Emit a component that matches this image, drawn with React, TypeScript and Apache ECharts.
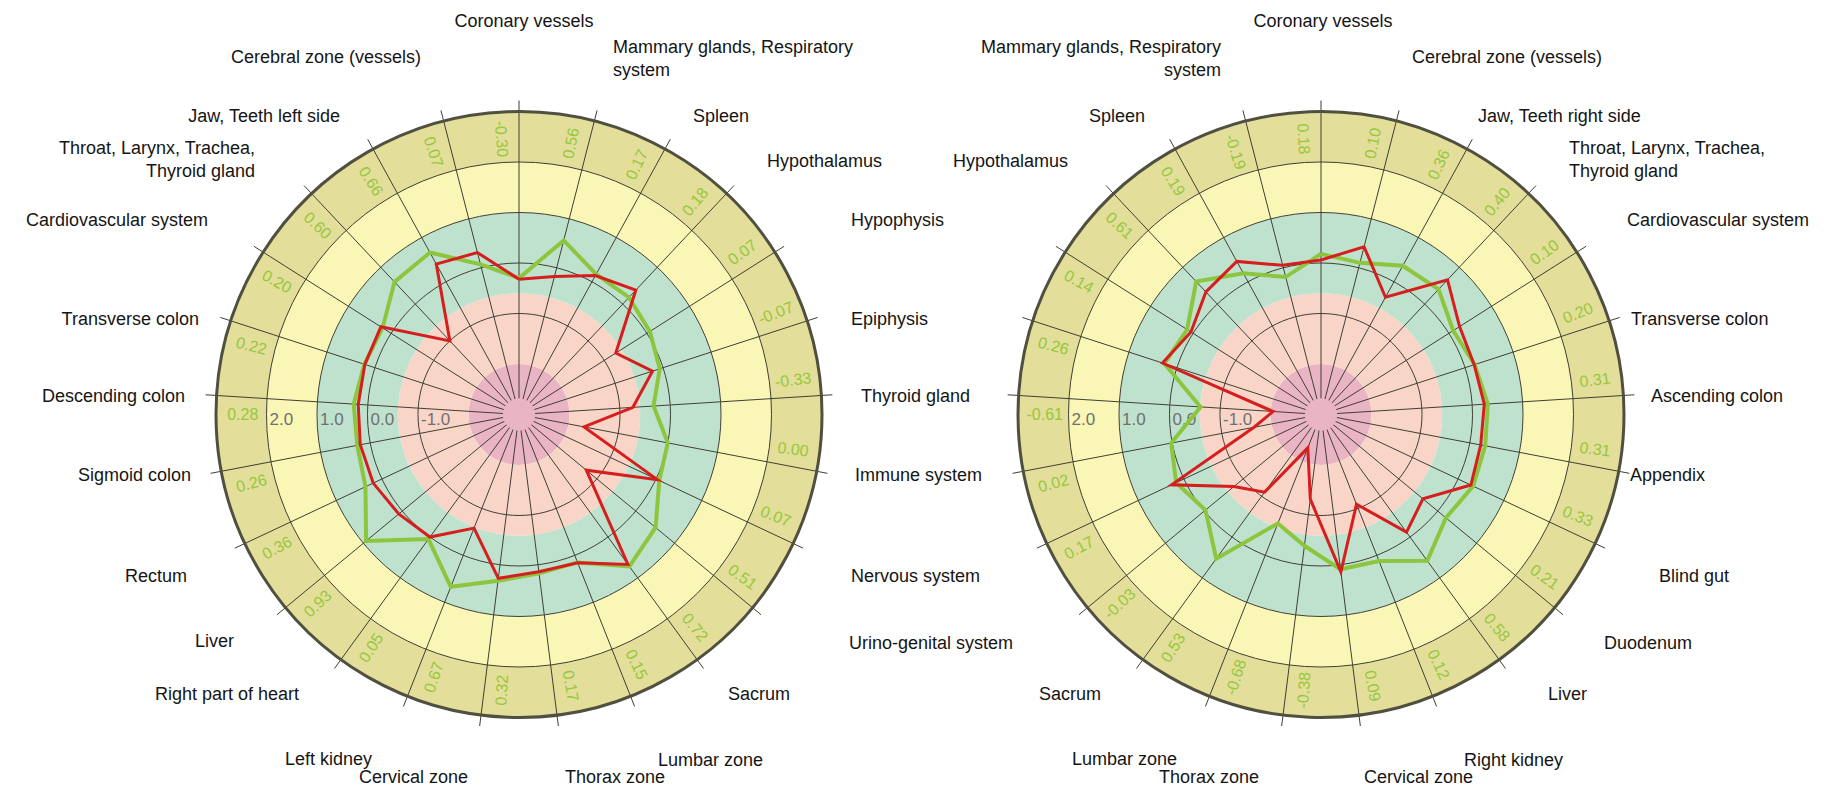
import React, { useEffect, useRef } from "react";
import * as echarts from "echarts";

// ---------- data ----------
const LEFT_CATEGORIES = [
  "Coronary vessels", "Mammary glands, Respiratory\nsystem", "Spleen", "Hypothalamus", "Hypophysis",
  "Epiphysis", "Thyroid gland", "Immune system", "Nervous system", "Urino-genital system",
  "Sacrum", "Lumbar zone", "Thorax zone", "Cervical zone", "Left kidney",
  "Right part of heart", "Liver", "Rectum", "Sigmoid colon", "Descending colon",
  "Transverse colon", "Cardiovascular system", "Throat, Larynx, Trachea,\nThyroid gland", "Jaw, Teeth left side", "Cerebral zone (vessels)",
];
const RIGHT_CATEGORIES = [
  "Coronary vessels", "Cerebral zone (vessels)", "Jaw, Teeth right side", "Throat, Larynx, Trachea,\nThyroid gland", "Cardiovascular system",
  "Transverse colon", "Ascending colon", "Appendix", "Blind gut", "Duodenum",
  "Liver", "Right kidney", "Cervical zone", "Thorax zone", "Lumbar zone",
  "Sacrum", "Urino-genital system", "Nervous system", "Immune system", "Thyroid gland",
  "Epiphysis", "Hypophysis", "Hypothalamus", "Spleen", "Mammary glands, Respiratory\nsystem",
];
const LEFT_GREEN = [-0.30, 0.56, 0.17, 0.18, 0.07, -0.07, -0.33, 0.00, 0.07, 0.51, 0.72, 0.15, 0.17, 0.32, 0.67, 0.05, 0.93, 0.36, 0.26, 0.28, 0.22, 0.20, 0.60, 0.66, 0.07];
const LEFT_RED = [-0.32, -0.18, 0.14, 0.38, -0.73, -0.22, -0.74, -1.69, 0.03, -1.27, 0.67, 0.16, 0.14, 0.27, -0.58, 0.0, 0.09, 0.19, 0.2, 0.19, 0.21, 0.24, -1.0, 0.40, 0.31];
const RIGHT_GREEN = [0.18, 0.10, 0.36, 0.40, 0.10, 0.20, 0.31, 0.31, 0.33, 0.21, 0.58, 0.12, 0.09, -0.38, -0.68, 0.53, -0.03, 0.17, 0.02, -0.61, 0.26, 0.14, 0.61, 0.19, -0.19];
const RIGHT_RED = [0.06, 0.43, -0.35, 0.66, 0.25, 0.19, 0.24, 0.22, 0.28, -0.38, -0.12, -1.09, 0.14, -1.31, -2.29, -1.1, -0.76, 0.27, -1.65, -2.05, 0.30, 0.05, 0.33, 0.46, 0.05];
const RADIUS_TICKS = [-1, 0, 1, 2];
const BAND_EDGES = [-3, -2, -0.6, 1, 2, 3];

// ---------- layout / style ----------
const W = 1836;
const H = 789;
const CENTERS: [number, number][] = [[519, 414.5], [1321, 414.5]];
const RADIUS = 303;
const BAND_COLORS = ["#e9b4c4", "#f9d5c7", "#bfe2ce", "#faf6b6", "#e3de9a"];
const CAP_EDGE = -2.68;
const VALUE_LABEL_R = 2.47;
const GRID_COLOR = "#3f3f35";
const FONT = '"Liberation Sans", Arial, sans-serif';

// label anchors relative to chart centre [dx, dy]; null = label shared with the other chart
const LEFT_LABEL_POS: ([number, number] | null)[] = [
  [5, -394], [94, -356], [174, -299], [248, -254], [332, -195],
  [332, -96], [342, -19], [336, 60], [332, 161], [330, 228],
  [209, 279], [139, 345], [46, 362], [-51, 362], [-147, 344],
  [-220, 279], [-285, 226], [-332, 161], [-328, 60], [-334, -19],
  [-320, -96], [-311, -195], [-264, -255], [-179, -299], [-98, -358],
];
const RIGHT_LABEL_POS: ([number, number] | null)[] = [
  [2, -394], [91, -358], [157, -299], [248, -255], [306, -195],
  [310, -96], [330, -19], [309, 60], [338, 161], [283, 228],
  [227, 279], [143, 345], [43, 362], [-62, 362], [-144, 344],
  [-220, 279], null, null, null, null,
  null, null, [-253, -254], [-176, -299], [-100, -356],
];

const N = 25;

function closed(values: number[]) {
  return values.map((v, i) => [v, i]).concat([[values[0], values.length]]);
}

function bandSeries(polarIndex: number) {
  return {
    type: "custom",
    coordinateSystem: "polar",
    polarIndex,
    silent: true,
    z: 1,
    data: BAND_COLORS.map((_, i) => [BAND_EDGES[i], BAND_EDGES[i + 1]]),
    renderItem: (params: any, api: any) => {
      const r0 = api.coord([api.value(0), 0])[2];
      const r = api.coord([api.value(1), 0])[2];
      const cs = params.coordSys;
      return {
        type: "sector",
        shape: { cx: cs.cx, cy: cs.cy, r0, r, startAngle: 0, endAngle: Math.PI * 2 },
        style: { fill: BAND_COLORS[params.dataIndex] },
      };
    },
  };
}

function capSeries(polarIndex: number) {
  return {
    type: "custom",
    coordinateSystem: "polar",
    polarIndex,
    silent: true,
    z: 4,
    data: [[BAND_EDGES[0], CAP_EDGE]],
    renderItem: (params: any, api: any) => {
      const r = api.coord([api.value(1), 0])[2];
      const cs = params.coordSys;
      return {
        type: "circle",
        shape: { cx: cs.cx, cy: cs.cy, r },
        style: { fill: BAND_COLORS[0] },
      };
    },
  };
}

function valueLabelSeries(polarIndex: number, values: number[]) {
  return {
    type: "custom",
    coordinateSystem: "polar",
    polarIndex,
    silent: true,
    z: 5,
    data: values.map((_, i) => [VALUE_LABEL_R, i - 0.25]),
    renderItem: (params: any, api: any) => {
      const i = params.dataIndex;
      const p = api.coord([api.value(0), api.value(1)]);
      const theta = (((i - 0.25) * 360) / N + 360) % 360;
      const rot = theta < 180 ? 90 - theta : 270 - theta;
      return {
        type: "text",
        x: p[0],
        y: p[1],
        rotation: (rot * Math.PI) / 180,
        style: {
          text: values[i].toFixed(2),
          fill: "#96c83c",
          font: `16px ${FONT}`,
          align: "center",
          verticalAlign: "middle",
          textAlign: "center",
          textVerticalAlign: "middle",
        },
      };
    },
  };
}

function radiusLabelSeries(polarIndex: number) {
  return {
    type: "custom",
    coordinateSystem: "polar",
    polarIndex,
    silent: true,
    z: 5,
    data: RADIUS_TICKS.map((v) => [v, (N * 3) / 4]),
    renderItem: (params: any, api: any) => {
      const p = api.coord([api.value(0), api.value(1)]);
      return {
        type: "text",
        x: p[0] + 3,
        y: p[1] + 5,
        style: {
          text: RADIUS_TICKS[params.dataIndex].toFixed(1),
          fill: "#707070",
          font: `17px ${FONT}`,
          align: "left",
          verticalAlign: "middle",
          textAlign: "left",
          textVerticalAlign: "middle",
        },
      };
    },
  };
}

function lineSeries(polarIndex: number, values: number[], color: string, width: number, z: number) {
  return {
    type: "line",
    coordinateSystem: "polar",
    polarIndex,
    data: closed(values),
    symbol: "none",
    showSymbol: false,
    silent: true,
    clip: false,
    z,
    lineStyle: { color, width, join: "miter", miterLimit: 8 },
  };
}

function labelGraphics(chart: number, cats: string[], pos: ([number, number] | null)[]) {
  const [cx, cy] = CENTERS[chart];
  const out: any[] = [];
  cats.forEach((text, i) => {
    const p = pos[i];
    if (!p) return;
    const align = i === 0 ? "center" : p[0] > 0 ? "left" : "right";
    out.push({
      type: "text",
      x: cx + p[0],
      y: cy + p[1],
      silent: true,
      style: {
        text,
        fill: "#151515",
        font: `18px ${FONT}`,
        lineHeight: 23,
        align,
        verticalAlign: "middle",
        textAlign: align,
        textVerticalAlign: "middle",
      },
    });
  });
  return out;
}

function polarAxes(i: number) {
  const angleAxis = {
    polarIndex: i,
    type: "value",
    min: 0,
    max: N,
    interval: 1,
    startAngle: 90,
    clockwise: true,
    z: 3,
    axisLine: { show: true, lineStyle: { color: "#505040", width: 3 } },
    axisTick: { show: true, length: 11, lineStyle: { color: GRID_COLOR, width: 1 } },
    axisLabel: { show: false },
    splitLine: { show: true, lineStyle: { color: GRID_COLOR, width: 1 } },
  };
  const radiusAxis = {
    polarIndex: i,
    type: "value",
    min: -3,
    max: 3,
    interval: 1,
    z: 3,
    axisLine: { show: false },
    axisTick: { show: false },
    axisLabel: { show: false },
    splitLine: {
      show: true,
      lineStyle: {
        color: ["transparent", "transparent", GRID_COLOR, GRID_COLOR, GRID_COLOR, GRID_COLOR, "transparent"],
        width: 1,
      },
    },
  };
  return { angleAxis, radiusAxis };
}

export default function App() {
  const ref = useRef<HTMLDivElement>(null);
  useEffect(() => {
    document.body.style.margin = "0";
    if (!ref.current) return;
    const chart = echarts.init(ref.current, null, { renderer: "svg" });
    const a0 = polarAxes(0);
    const a1 = polarAxes(1);
    chart.setOption({
      animation: false,
      backgroundColor: "#ffffff",
      polar: CENTERS.map((c) => ({ center: c, radius: RADIUS })),
      angleAxis: [a0.angleAxis, a1.angleAxis],
      radiusAxis: [a0.radiusAxis, a1.radiusAxis],
      series: [
        bandSeries(0),
        bandSeries(1),
        capSeries(0),
        capSeries(1),
        valueLabelSeries(0, LEFT_GREEN),
        valueLabelSeries(1, RIGHT_GREEN),
        radiusLabelSeries(0),
        radiusLabelSeries(1),
        lineSeries(0, LEFT_GREEN, "#8cc63f", 4, 6),
        lineSeries(0, LEFT_RED, "#d61e1e", 3, 7),
        lineSeries(1, RIGHT_GREEN, "#8cc63f", 4, 6),
        lineSeries(1, RIGHT_RED, "#d61e1e", 3, 7),
      ],
      graphic: [
        ...labelGraphics(0, LEFT_CATEGORIES, LEFT_LABEL_POS),
        ...labelGraphics(1, RIGHT_CATEGORIES, RIGHT_LABEL_POS),
      ],
    });
    return () => chart.dispose();
  }, []);
  return <div ref={ref} style={{ width: W, height: H }} />;
}
